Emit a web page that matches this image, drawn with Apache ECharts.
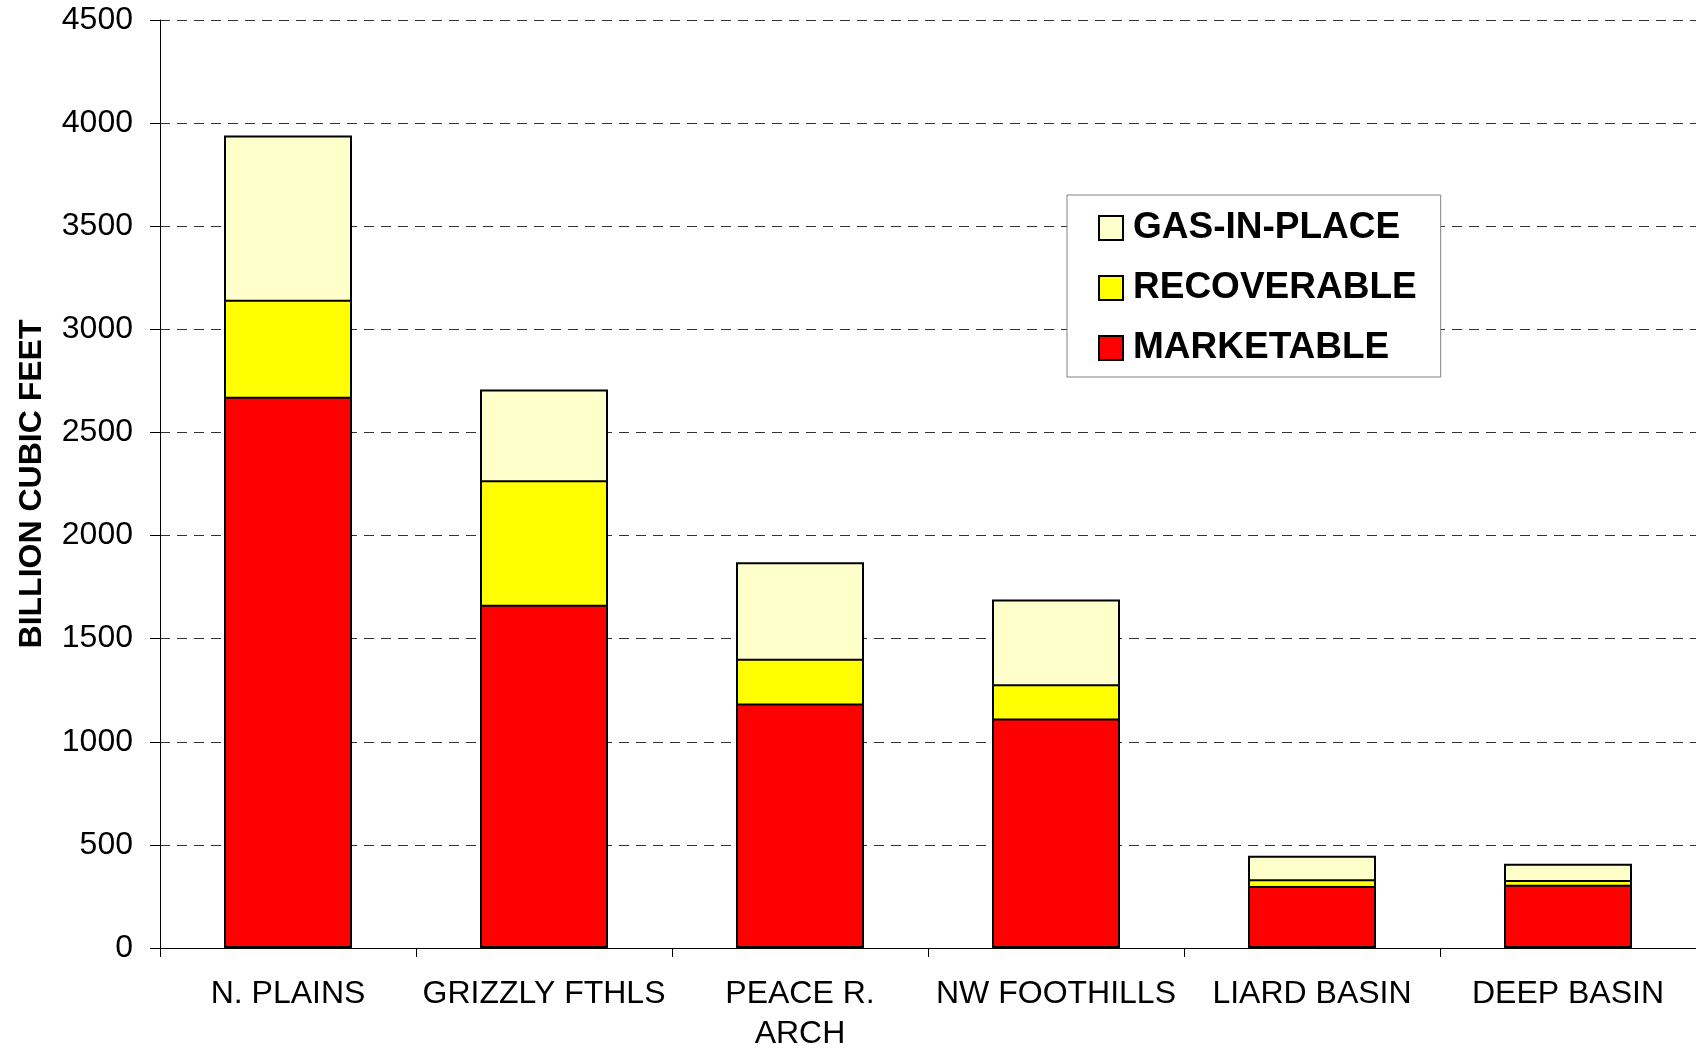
<!DOCTYPE html>
<html>
<head>
<meta charset="utf-8">
<script src="https://cdn.jsdelivr.net/npm/echarts@6/dist/echarts.min.js"></script>
<style>
html,body{margin:0;padding:0;background:#fff;}
#chart{width:1696px;height:1049px;}
</style>
</head>
<body>
<div id="chart"></div>
<script>
const categories = ['N. PLAINS', 'GRIZZLY FTHLS', 'PEACE R.\nARCH', 'NW FOOTHILLS', 'LIARD BASIN', 'DEEP BASIN'];
const gasInPlace = [3940, 2708, 1870, 1690, 447, 408];
const recoverable = [3143, 2268, 1403, 1279, 333, 330];
const marketable = [2673, 1665, 1186, 1113, 301, 307];
const seriesNames = ['GAS-IN-PLACE', 'RECOVERABLE', 'MARKETABLE'];
const yTicks = { min: 0, max: 4500, interval: 500 };

const FONT = '"Liberation Sans", Arial, sans-serif';
const chart = echarts.init(document.getElementById('chart'));

function barSeries(name, data, color, gap) {
  return {
    name: name,
    type: 'bar',
    data: data,
    barWidth: '50%',
    barGap: gap,
    itemStyle: { color: color, borderColor: '#000', borderWidth: 2 },
    emphasis: { disabled: true },
    animation: false
  };
}

chart.setOption({
  animation: false,
  backgroundColor: '#ffffff',
  grid: { left: 160, right: 0, top: 20, bottom: 101, containLabel: false, outerBoundsMode: 'none' },
  legend: {
    data: seriesNames,
    orient: 'vertical',
    left: 1067,
    top: 195,
    padding: [13, 24, 9, 31],
    itemGap: 20,
    itemWidth: 24,
    itemHeight: 24,
    icon: 'rect',
    borderColor: '#808080',
    borderWidth: 1,
    backgroundColor: '#fff',
    selectedMode: false,
    textStyle: {
      fontFamily: FONT, fontSize: 37, fontWeight: 'bold', color: '#000',
      lineHeight: 40, padding: [0, 0, 0, 5]
    }
  },
  xAxis: {
    type: 'category',
    data: categories,
    boundaryGap: true,
    axisLine: { lineStyle: { color: '#000', width: 1 } },
    axisTick: { show: true, length: 9, lineStyle: { color: '#000' } },
    axisLabel: {
      fontFamily: FONT, fontSize: 32, color: '#000', margin: 26,
      lineHeight: 40, interval: 0
    }
  },
  yAxis: {
    type: 'value',
    min: yTicks.min, max: yTicks.max, interval: yTicks.interval,
    name: 'BILLION CUBIC FEET',
    nameLocation: 'middle',
    nameRotate: 90,
    nameGap: 112,
    nameTextStyle: { fontFamily: FONT, fontSize: 32, fontWeight: 'bold', color: '#000' },
    axisLine: { show: true, lineStyle: { color: '#000', width: 1 } },
    axisTick: { show: true, length: 10, lineStyle: { color: '#000' } },
    axisLabel: {
      fontFamily: FONT, fontSize: 32, color: '#000', margin: 27,
      formatter: function (v) { return String(v); }
    },
    splitLine: { show: true, lineStyle: { color: '#333', width: 1, type: [10, 7] } }
  },
  series: [
    barSeries(seriesNames[0], gasInPlace, '#FFFFCC', '-100%'),
    barSeries(seriesNames[1], recoverable, '#FFFF00', '-100%'),
    barSeries(seriesNames[2], marketable, '#FF0000', '-100%')
  ]
});
</script>
</body>
</html>
